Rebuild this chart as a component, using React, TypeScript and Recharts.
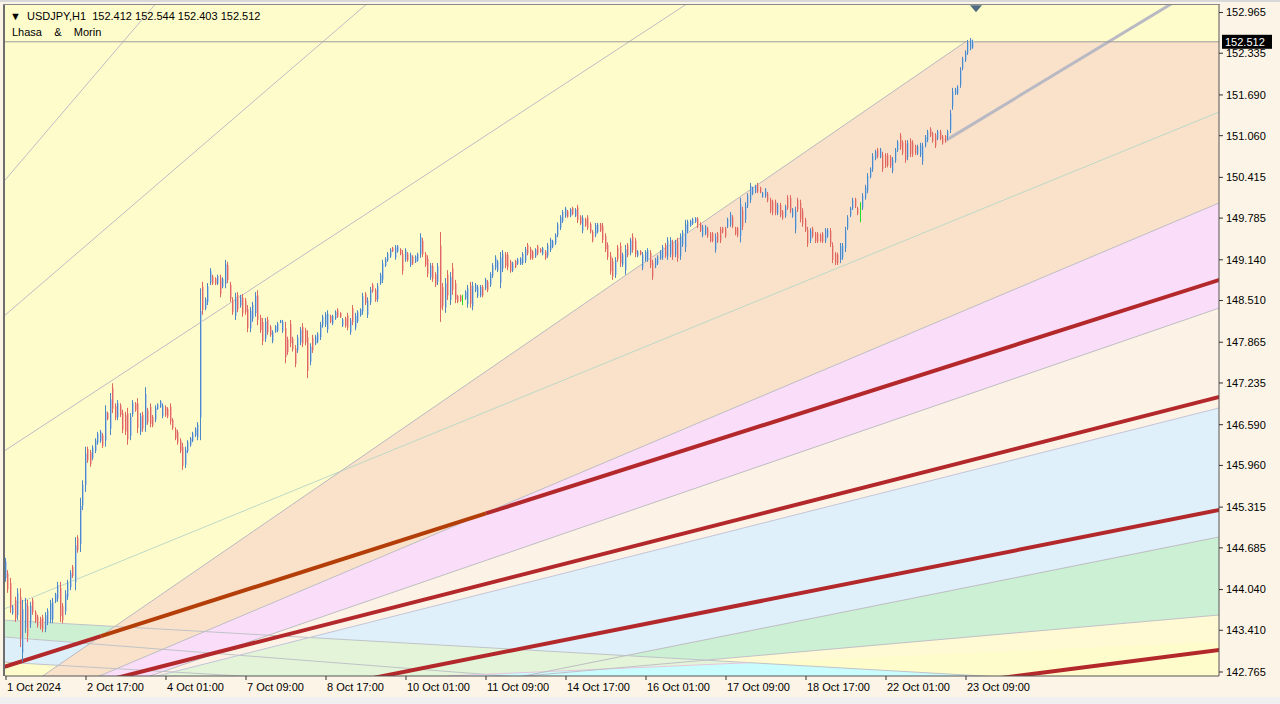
import React from 'react';
import { ComposedChart, Area, Line, Bar, XAxis, YAxis, CartesianGrid, ReferenceLine, ReferenceDot } from 'recharts';

const FONT = "'Liberation Sans', Arial, sans-serif";

// ---------- candles (H1 bars, index 0 = 1 Oct 09:00) ----------
const highs1 = [
  144.53,144.34,144.22,143.80,143.93,144.06,144.06,143.88,143.91,143.88,
  143.85,143.91,143.72,143.65,143.62,143.65,143.69,143.75,143.88,143.91,
  143.99,144.16,144.16,143.83,144.03,144.19,144.34,144.42,144.85,144.88,
  145.46,145.73,146.25,146.25,146.20,146.27,146.38,146.48,146.51,146.46,
  146.89,146.79,147.08,147.23,146.92,146.97,146.92,146.82,146.79,146.85,
  146.77,146.97,146.94,147.00,146.77,146.79,147.17,146.85,146.92,146.74,
  146.89,146.92,146.97,146.92,146.89,146.86,146.92,146.69,146.55,146.51,
  146.38,146.31,146.25,146.35,146.40,146.48,146.55,146.63,148.70,148.80,
  148.56,148.78,149.01,148.91,148.87,148.91,148.91,148.87,149.14,149.11,
  148.80,148.56,148.63,148.64];
const lows1 = [
  144.16,143.99,143.68,143.65,143.54,143.57,143.15,142.92,143.37,143.23,
  143.45,143.65,143.52,143.45,143.42,143.38,143.38,143.49,143.52,143.52,
  143.83,143.85,143.54,143.52,143.65,143.88,144.03,144.22,144.03,144.61,
  144.62,145.27,145.55,146.00,145.94,146.04,146.15,146.28,146.31,146.23,
  146.25,146.66,146.43,146.77,146.66,146.66,146.71,146.46,146.43,146.28,
  146.35,146.71,146.79,146.46,146.43,146.48,146.48,146.59,146.55,146.55,
  146.63,146.82,146.85,146.69,146.71,146.69,146.59,146.51,146.35,146.28,
  146.15,145.89,145.92,146.15,146.25,146.32,146.40,146.35,146.35,148.29,
  148.36,148.44,148.75,148.75,148.75,148.75,148.56,148.70,148.70,148.78,
  148.49,148.29,148.21,148.33];
const highs2 = [
  148.60,148.61,148.55,148.44,148.41,148.49,148.64,148.67,148.29,148.24,
  148.24,148.26,148.13,148.05,148.13,148.18,148.21,148.21,148.18,147.95,
  148.21,147.95,147.82,147.98,148.10,148.16,148.09,148.05,147.85,147.98,
  147.98,148.02,148.18,148.29,148.33,148.36,148.29,148.29,148.36,148.39,
  148.33,148.24,148.26,148.32,148.24,148.44,148.32,148.36,148.39,148.63,
  148.64,148.56,148.72,148.78,148.70,148.78,148.94,149.14,149.18,149.26,
  149.32,149.34,149.37,149.37,149.32,149.29,149.32,149.26,149.25,149.21,
  149.21,149.25,149.55,149.48,149.26,149.21,149.09,149.09,148.95,149.09,
  149.57,148.78,148.86,148.98,148.95,149.09,148.83,148.60,148.60,148.60,
  148.67,148.75,148.80,148.80,148.78,148.75,148.75,148.75];
const lows2 = [
  148.40,148.26,148.29,148.02,148.02,148.18,148.26,148.13,148.01,147.82,
  147.87,147.98,147.95,147.85,148.01,148.02,148.16,148.01,147.54,147.67,
  147.79,147.72,147.48,147.70,147.82,147.79,147.82,147.31,147.51,147.70,
  147.82,147.85,147.90,148.09,148.10,148.01,148.16,148.13,148.21,148.24,
  148.24,148.10,148.09,148.05,147.98,148.13,148.05,148.16,148.26,148.29,
  148.44,148.24,148.44,148.63,148.49,148.49,148.75,148.78,149.03,149.11,
  149.17,149.26,149.14,149.25,149.21,148.91,149.11,149.11,149.03,149.06,
  149.09,149.11,149.17,149.18,149.03,148.87,148.83,148.80,148.72,148.75,
  148.18,148.36,148.32,148.52,148.44,148.60,148.47,148.47,148.49,148.44,
  148.52,148.40,148.40,148.36,148.64,148.55,148.56,148.56];
const highs3 = [
  148.86,148.83,148.95,149.09,149.21,149.14,149.26,149.29,149.26,149.26,
  149.14,149.11,149.14,149.17,149.18,149.26,149.34,149.40,149.34,149.29,
  149.32,149.37,149.32,149.34,149.29,149.40,149.48,149.45,149.55,149.72,
  149.83,149.91,149.96,149.91,149.94,149.96,149.94,149.99,149.83,149.83,
  149.79,149.83,149.72,149.60,149.71,149.71,149.71,149.71,149.55,149.41,
  149.26,149.17,149.18,149.37,149.41,149.25,149.37,149.40,149.48,149.55,
  149.48,149.29,149.29,149.26,149.29,149.32,149.29,149.14,149.17,149.21,
  149.29,149.37,149.40,149.49,149.49,149.45,149.45,149.48,149.55,149.60,
  149.76,149.76,149.76,149.79,149.80,149.80,149.72,149.68,149.68,149.65,
  149.57,149.57,149.55,149.57,149.65,149.65,149.65,149.79];
const lows3 = [
  148.67,148.64,148.72,148.86,148.98,148.95,148.70,148.95,149.01,148.98,
  148.94,148.95,149.01,149.06,149.06,149.06,149.09,149.21,149.14,149.14,
  149.17,149.21,149.25,149.21,149.14,149.17,149.26,149.32,149.37,149.49,
  149.60,149.71,149.79,149.79,149.80,149.83,149.80,149.71,149.68,149.55,
  149.65,149.60,149.55,149.41,149.49,149.55,149.57,149.40,149.26,149.14,
  148.91,148.83,148.86,149.11,149.03,149.03,148.91,149.18,149.21,149.25,
  149.18,149.18,149.21,148.98,149.11,149.11,149.01,148.83,149.01,149.06,
  149.14,149.14,149.17,149.14,149.18,149.14,149.18,149.11,149.14,149.34,
  149.26,149.55,149.65,149.68,149.71,149.63,149.57,149.49,149.52,149.48,
  149.41,149.41,149.25,149.40,149.40,149.55,149.48,149.63];
const highs4 = [
  149.88,149.83,149.65,149.65,150.10,149.96,150.03,150.17,150.33,150.27,
  150.30,150.33,150.27,150.19,150.25,150.19,150.10,150.07,150.07,150.02,
  150.02,149.91,149.99,150.14,150.14,149.94,149.96,150.10,150.07,149.94,
  149.79,149.65,149.63,149.65,149.57,149.57,149.55,149.57,149.63,149.63,
  149.63,149.41,149.26,149.25,149.40,149.40,149.65,149.83,149.96,150.10,
  150.10,149.96,150.03,150.17,150.30,150.48,150.57,150.79,150.84,150.87,
  150.87,150.81,150.79,150.79,150.76,150.73,150.87,150.99,151.10,150.99,
  150.99,150.99,151.02,150.99,150.92,150.92,150.95,150.95,151.07,151.15,
  151.19,151.12,151.10,151.15,151.15,151.07,151.07,151.15,151.46,151.80,
  151.80,151.84,152.12,152.28,152.38,152.54,152.57,152.544];
const lows4 = [
  149.65,149.63,149.52,149.49,149.41,149.60,149.71,149.94,150.02,150.14,
  150.17,150.17,150.17,150.10,150.10,150.03,149.86,149.83,149.83,149.83,
  149.80,149.76,149.79,149.91,149.86,149.79,149.55,149.88,149.72,149.65,
  149.57,149.34,149.40,149.48,149.40,149.40,149.41,149.40,149.40,149.48,
  149.34,149.09,149.06,149.06,149.09,149.14,149.26,149.60,149.80,149.91,
  149.94,149.83,149.72,149.91,150.07,150.17,150.40,150.50,150.68,150.71,
  150.71,150.50,150.56,150.57,150.56,150.48,150.64,150.81,150.84,150.76,
  150.64,150.68,150.73,150.73,150.76,150.76,150.73,150.61,150.88,150.96,
  151.04,150.95,150.87,150.99,150.99,150.92,150.95,150.99,151.10,151.46,
  151.69,151.69,151.80,152.07,152.20,152.31,152.38,152.403];
// u = up (blue), d = down (red), g = highlighted (green)
const barDirs = [
  'uddududuud','uddddduuuu','uudduuudud','uuudduuuud','ududdudddd','uuddududdd','uuuudddddd','dduuuuuuud','uuudduduud','ddud',
  'uddduuuddd','udduuuuudd','ddduudddud','uuuuuuduud','dudduduuuu','duudduuuuu','uduuddudud','uuuddduddu','ddududdddg','uuduuuud',
  'uduuuuuudd','duduuuuddd','udduduuuuu','uuudududdu','dddduudddd','ddudduudud','duduuudduu','uuduududuu','uuuuudduud','dduddddu',
  'uddduduuuu','udduuddddu','ddudduuddd','dduddddduu','dddduuuuuu','ddguuuuuud','udddduuudd','duddduuuuu','ddduddduuu','uuuuuuuu',
].join('');

const lastBar = { open: '152.412', high: '152.544', low: '152.403', close: '152.512' };
const lastClose = 152.512;

// ---------- axes ----------
const priceTicks = [152.965,152.335,151.690,151.060,150.415,149.785,149.140,148.510,147.865,147.235,146.590,145.960,145.315,144.685,144.040,143.410,142.765];
const timeTickIdx = [0,32,64,96,128,160,192,224,256,288,320,352,384];
const timeLabels = ['1 Oct 2024','2 Oct 17:00','4 Oct 01:00','7 Oct 09:00','8 Oct 17:00','10 Oct 01:00','11 Oct 09:00','14 Oct 17:00','16 Oct 01:00','17 Oct 09:00','18 Oct 17:00','22 Oct 01:00','23 Oct 09:00'];
const X_DOMAIN: [number, number] = [-0.4, 485.2];
const Y_DOMAIN: [number, number] = [142.703, 153.081];

// ---------- drawn objects: [barIndex, price] end points ----------
type Pts = [number, number][];
const fanTop: Pts = [[-2, 142.26], [383.8, 152.512]];
const pinkTop: Pts = [[-2, 142.06], [488, 150.065]];
const pinkBottom: Pts = [[-2, 141.91], [488, 148.43]];
const blueTop: Pts = [[-2, 142.094], [488, 146.876]];
const greenTop: Pts = [[-2, 141.085], [488, 144.875]];
const yellowTop: Pts = [[-2, 141.99], [488, 143.656]];
const yellowBottom: Pts = [[-2, 142.40], [488, 143.233]];
const redFan1: Pts = [[-2, 142.828], [488, 148.862]];
const redFan2: Pts = [[-2, 142.217], [488, 147.046]];
const redFan3: Pts = [[-2, 141.529], [488, 145.292]];
const redFan4: Pts = [[-2, 140.686], [488, 143.119]];
const redFan1Breaks = [38, 192];
const upLineA: Pts = [[-2, 150.30], [61.6, 153.18]];
const upLineB: Pts = [[-2, 148.23], [145.6, 153.14]];
const upLineC: Pts = [[-2, 146.15], [273.6, 153.13]];
const upLineD: Pts = [[-2, 143.72], [488, 151.47]];
const downLine1: Pts = [[-2, 143.57], [437.6, 142.60]];
const downLine2: Pts = [[-2, 143.31], [237.6, 142.59]];
const downLine3: Pts = [[-2, 142.92], [117.6, 142.65]];
// bar indices where the two fans cross each other / the bottom edge
const crossBlueDown = 60.4;
const crossBlueLine1 = 121.5;
const crossYellowBottom = 176.4;
const crossYellowLine1 = 297.5;
const crossLine1Bottom = 390.5;
const swingLine: Pts = [[375.6, 150.98], [469.6, 153.18]];
const shiftMarker = { i: 388, price: 153.03 };

const at = (ln: Pts, i: number) => {
  for (let k = 0; k < ln.length - 1; k++) {
    const [i0, p0] = ln[k];
    const [i1, p1] = ln[k + 1];
    if (i <= i1 || k === ln.length - 2) return p0 + ((p1 - p0) * (i - i0)) / (i1 - i0);
  }
  return ln[ln.length - 1][1];
};
const band = (lo: Pts, hi: Pts, xs: number[]) => xs.map((i) => ({ i, r: [at(lo, i), at(hi, i)] }));
const pts = (ln: Pts) => ln.map(([i, v]) => ({ i, v }));
const sub = (ln: Pts, a: number, b: number) => [{ i: a, v: at(ln, a) }, { i: b, v: at(ln, b) }];

const highs = [...highs1, ...highs2, ...highs3, ...highs4];
const lows = [...lows1, ...lows2, ...lows3, ...lows4];
const candles = highs.map((h, i) => ({ i, r: [lows[i], h], d: barDirs[i] || 'u' }));

const peachTopEdge: Pts = [...fanTop, [488, lastClose]];
const EDGE = [-2, 488];
const floorLine: Pts = [[-2, 142.5], [488, 142.5]];
const overlapTop: Pts = [
  [crossBlueDown, at(blueTop, crossBlueDown)],
  [crossBlueLine1, at(downLine1, crossBlueLine1)],
  [crossYellowLine1, at(downLine1, crossYellowLine1)],
];
const cyanTop: Pts = [
  [crossYellowBottom, at(yellowBottom, crossYellowBottom)],
  [crossYellowLine1, at(yellowBottom, crossYellowLine1)],
  [crossLine1Bottom, at(downLine1, crossLine1Bottom)],
];

const Candle = (props: any) => {
  const { x, y, width, height, payload } = props;
  if (x == null || y == null || !payload) return null;
  const top = height < 0 ? y + height : y;
  const h = Math.max(Math.abs(height), 1);
  const cx = Math.round(x + width / 2);
  const d = payload.d;
  const main = d === 'g' ? '#22DD22' : d === 'u' ? '#4C88C6' : '#E0675E';
  const pale = d === 'u' ? '#B7D0E8' : '#F2B9AC';
  return (
    <g>
      <rect x={cx - 1} y={top} width={1} height={h} fill={main} />
      {d !== 'g' && h > 3 ? <rect x={cx} y={top + h * 0.15} width={1} height={h * 0.7} fill={pale} /> : null}
    </g>
  );
};

const TimeTick = (props: any) => {
  const { x, y, payload } = props;
  const k = timeTickIdx.indexOf(payload.value);
  return (
    <text x={x + 1} y={y} dy={9} textAnchor="start" fontSize={11} fontFamily={FONT} fill="#000">
      {k >= 0 ? timeLabels[k] : ''}
    </text>
  );
};

const PriceTag = (props: any) => {
  const vb = props.viewBox || {};
  const x0 = (vb.x || 0) + (vb.width || 0) + 3;
  const y0 = vb.y || 0;
  return (
    <g>
      <rect x={x0} y={y0 - 7} width={50} height={14} fill="#000" />
      <text x={x0 + 3} y={y0 + 4} fontSize={11} fontFamily={FONT} fill="#fff">{lastBar.close}</text>
    </g>
  );
};

const Marker = (props: any) => {
  const { cx, cy } = props;
  if (cx == null) return null;
  return <polygon points={`${cx - 6},${cy - 3} ${cx + 6},${cy - 3} ${cx},${cy + 4}`} fill="#4F6B83" />;
};

const areaCommon = { type: 'linear' as const, dataKey: 'r', stroke: 'none', fillOpacity: 1, isAnimationActive: false, activeDot: false, dot: false };
const thin = { type: 'linear' as const, dataKey: 'v', dot: false, activeDot: false, isAnimationActive: false, strokeWidth: 1 };

export default function App() {
  return (
    <div style={{ position: 'absolute', left: 0, top: 0, width: 1280, height: 704, background: '#FCF4E6', overflow: 'hidden' }}>
      <ComposedChart width={1280} height={704} data={candles} margin={{ top: 5, right: 0, bottom: 0, left: 5 }}>
        <CartesianGrid horizontal={false} vertical={false} fill="#FFFCCC" stroke="none" />
        <XAxis type="number" dataKey="i" domain={X_DOMAIN} allowDataOverflow ticks={timeTickIdx} interval={0}
          tick={<TimeTick />} tickSize={4} tickLine={{ stroke: '#333' }} axisLine={{ stroke: '#555' }} height={28} />
        <YAxis orientation="right" type="number" domain={Y_DOMAIN} allowDataOverflow ticks={priceTicks} interval={0}
          width={61} tickSize={4} tickMargin={3} tickFormatter={(v: number) => v.toFixed(3)}
          tick={{ fontSize: 11, fill: '#000', fontFamily: FONT }} tickLine={{ stroke: '#333' }} axisLine={{ stroke: '#555' }} />

        {/* left descending fan bands */}
        <Area {...areaCommon} data={band(downLine2, downLine1, [-2, 237.6])} fill="#CDF0D3" />
        <Area {...areaCommon} data={band(downLine3, downLine2, [-2, 117.6])} fill="#DDEFF8" />

        {/* ascending fan bands */}
        <Area {...areaCommon} data={band(pinkTop, peachTopEdge, [-2, 383.8, 488])} fill="#FAE1C9" />
        <Area {...areaCommon} data={band(pinkBottom, pinkTop, EDGE)} fill="#FADDF8" />
        <Area {...areaCommon} data={band(blueTop, pinkBottom, EDGE)} fill="#FCF3E6" />
        <Area {...areaCommon} data={band(greenTop, blueTop, EDGE)} fill="#E0F0FA" />
        <Area {...areaCommon} data={band(yellowTop, greenTop, EDGE)} fill="#CBF0D3" />
        <Area {...areaCommon} data={band(yellowBottom, yellowTop, EDGE)} fill="#FFFAD3" />
        {/* where the two fans overlap near the bottom */}
        <Area {...areaCommon} data={band(yellowBottom, overlapTop, [crossBlueDown, crossBlueLine1, crossYellowLine1])} fill="#E3F4D8" />
        <Area {...areaCommon} data={band(floorLine, cyanTop, [crossYellowBottom, crossYellowLine1, crossLine1Bottom])} fill="#C9FCFC" />

        {/* thin lines */}
        <Line {...thin} data={pts(upLineA)} stroke="#BDBDC4" />
        <Line {...thin} data={pts(upLineB)} stroke="#BDBDC4" />
        <Line {...thin} data={pts(upLineC)} stroke="#BDBDC4" />
        <Line {...thin} data={pts(upLineD)} stroke="#BCD9C6" />
        <Line {...thin} data={pts(downLine1)} stroke="#BFC3C8" />
        <Line {...thin} data={pts(downLine2)} stroke="#BFC3C8" />
        <Line {...thin} data={pts(downLine3)} stroke="#BFC3C8" />
        <Line {...thin} data={sub(yellowBottom, crossYellowBottom, crossYellowLine1)} stroke="#E6C6DE" />
        <Line {...thin} data={pts(fanTop)} stroke="#B9B9C0" />
        <Line {...thin} data={pts(pinkTop)} stroke="#BDBDC4" />
        <Line {...thin} data={pts(pinkBottom)} stroke="#BDBDC4" />
        <Line {...thin} data={pts(blueTop)} stroke="#C4C4D8" />
        <Line {...thin} data={pts(greenTop)} stroke="#BDBDC4" />
        <Line {...thin} data={pts(yellowTop)} stroke="#C0C0C8" />

        {/* thick fan lines */}
        <Line {...thin} data={sub(redFan1, -2, redFan1Breaks[0])} stroke="#B3282A" strokeWidth={4} />
        <Line {...thin} data={sub(redFan1, redFan1Breaks[0], redFan1Breaks[1])} stroke="#B33E08" strokeWidth={4} />
        <Line {...thin} data={sub(redFan1, redFan1Breaks[1], 488)} stroke="#B3282A" strokeWidth={4} />
        <Line {...thin} data={pts(redFan2)} stroke="#B3282A" strokeWidth={4} />
        <Line {...thin} data={pts(redFan3)} stroke="#B3282A" strokeWidth={4} />
        <Line {...thin} data={pts(redFan4)} stroke="#B3282A" strokeWidth={4} />
        <Line {...thin} data={pts(swingLine)} stroke="#B9B9C4" strokeWidth={3} />

        <ReferenceLine y={lastClose} stroke="#9C9C9C" strokeWidth={1} label={<PriceTag />} ifOverflow="visible" />

        <Bar dataKey="r" barSize={2} isAnimationActive={false} shape={(p: any) => <Candle {...p} />} zIndex={900} />

        <ReferenceDot x={shiftMarker.i} y={shiftMarker.price} r={5} shape={(p: any) => <Marker {...p} />} ifOverflow="visible" />
      </ComposedChart>

      {/* frame borders */}
      <div style={{ position: 'absolute', left: 3, top: 5, width: 2, height: 671, background: '#6E6E6E' }} />
      <div style={{ position: 'absolute', left: 3, top: 4, width: 1217, height: 1, background: '#8A8A8A' }} />
      <div style={{ position: 'absolute', left: 0, top: 0, width: 1280, height: 2, background: '#D8D8D8' }} />
      <div style={{ position: 'absolute', left: 0, top: 697, width: 1280, height: 7, background: '#F0F0F0' }} />

      {/* header texts */}
      <div style={{ position: 'absolute', left: 10, top: 9, fontFamily: FONT, fontSize: 11, color: '#000', whiteSpace: 'pre', lineHeight: '14px' }}>
        {'▼  USDJPY,H1  ' + [lastBar.open, lastBar.high, lastBar.low, lastBar.close].join(' ')}
      </div>
      <div style={{ position: 'absolute', left: 12, top: 25, fontFamily: FONT, fontSize: 11, color: '#000', whiteSpace: 'pre', lineHeight: '14px' }}>
        {'Lhasa    &    Morin'}
      </div>
    </div>
  );
}
